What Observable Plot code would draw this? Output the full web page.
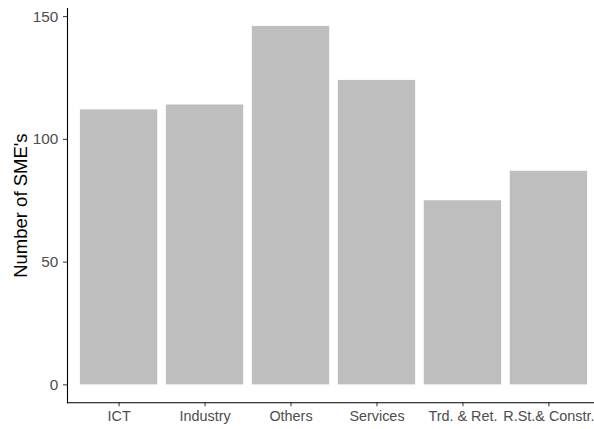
<!DOCTYPE html>
<html>
<head>
<meta charset="utf-8">
<script src="https://cdn.jsdelivr.net/npm/d3@7"></script>
<script src="https://cdn.jsdelivr.net/npm/@observablehq/plot@0.6"></script>
<style>
  html, body { margin: 0; padding: 0; background: #fff; }
  #chart { width: 594px; height: 429px; overflow: hidden; }
</style>
</head>
<body>
<div id="chart"></div>
<script>
const categories = ["ICT", "Industry", "Others", "Services", "Trd. & Ret.", "R.St.& Constr."];
const counts = [112, 114, 146, 124, 75, 87];
const yTicks = [0, 50, 100, 150];
const yTitle = "Number of SME's";

const data = categories.map((c, i) => ({category: c, count: counts[i]}));
const maxV = d3.max(counts);
const pad = maxV * 0.05;

const chart = Plot.plot({
  width: 594,
  height: 429,
  marginLeft: 67,
  marginRight: 0,
  marginTop: 8,
  marginBottom: 26.7,
  style: {fontFamily: "'Liberation Sans', Arial, sans-serif", background: "#fff"},
  x: {domain: categories, range: [67, 600], paddingInner: 0.1, paddingOuter: 0.15, round: false, axis: null},
  y: {domain: [-pad, maxV + pad], axis: null},
  marks: [
    Plot.barY(data, {x: "category", y: "count", fill: "#BEBEBE"}),
    Plot.axisY({ticks: yTicks, tickSize: 4, tickPadding: 5.2, fontSize: 15.3, color: "#4D4D4D", stroke: "#333333", label: null}),
    Plot.axisX({tickSize: 4, tickPadding: 4.3, fontSize: 14.4, color: "#4D4D4D", stroke: "#333333", label: null}),
    Plot.frame({anchor: "left", stroke: "#000", strokeWidth: 1.1}),
    Plot.frame({anchor: "bottom", stroke: "#000", strokeWidth: 1.1}),
    Plot.text([yTitle], {frameAnchor: "left", dx: -46, rotate: -90, textAnchor: "middle", fontSize: 18.5, fill: "#000", text: d => d})
  ]
});
document.getElementById("chart").appendChild(chart);
</script>
</body>
</html>
